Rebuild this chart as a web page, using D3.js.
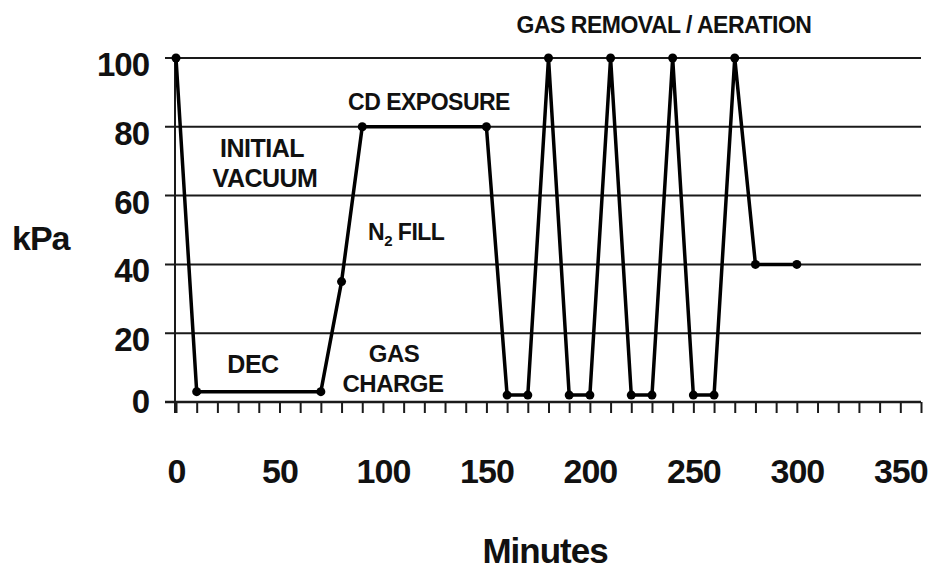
<!DOCTYPE html>
<html>
  <head>
    <meta charset="utf-8" />
    <script src="https://cdnjs.cloudflare.com/ajax/libs/d3/7.8.5/d3.min.js"></script>
    <style>
      body { margin: 0; background: #fff; }
      svg text { font-family: "Liberation Sans", Arial, sans-serif; font-weight: bold; fill: #111; }
    </style>
  </head>
  <body>
    <div id="chart"></div>
    <script>
      // process timeline: minutes vs chamber pressure (kPa)
      const minutes = [0, 10, 70, 80, 90, 150, 160, 170, 180, 190, 200, 210, 220, 230, 240, 250, 260, 270, 280, 300];
      const kPa = [100, 3, 3, 35, 80, 80, 2, 2, 100, 2, 2, 100, 2, 2, 100, 2, 2, 100, 40, 40];

      const yTicks = [0, 20, 40, 60, 80, 100];
      const xTicks = d3.range(0, 370, 10);
      const xLabelEvery = 50;

      const w = 935;
      const h = 572;

      const x = d3.scaleLinear().domain([0, 360]).range([176, 921]);
      const y = d3.scaleLinear().domain([0, 100]).range([402, 58]);

      const svg = d3
        .select("#chart")
        .append("svg")
        .attr("width", w)
        .attr("height", h);

      // horizontal grid lines (the 0 line is the x axis)
      svg
        .append("g")
        .selectAll("line")
        .data(yTicks)
        .enter()
        .append("line")
        .attr("x1", 165)
        .attr("x2", x(360))
        .attr("y1", (d) => y(d))
        .attr("y2", (d) => y(d))
        .attr("stroke", "#1a1a1a")
        .attr("stroke-width", (d) => (d === 0 ? 2.5 : 2));

      // y axis line
      svg
        .append("line")
        .attr("x1", x(0) - 1)
        .attr("x2", x(0) - 1)
        .attr("y1", y(100))
        .attr("y2", y(0) + 11)
        .attr("stroke", "#1a1a1a")
        .attr("stroke-width", 2);

      // y labels
      svg
        .append("g")
        .selectAll("text")
        .data(yTicks)
        .enter()
        .append("text")
        .attr("x", 149)
        .attr("y", (d) => y(d) + (d === 0 ? 11 : 18))
        .attr("text-anchor", "end")
        .attr("font-size", 33)
        .attr("letter-spacing", -1)
        .text((d) => d);

      // x axis ticks and labels
      const xAxis = d3
        .axisBottom(x)
        .tickValues(xTicks)
        .tickSize(11)
        .tickPadding(0)
        .tickFormat((d) => (d % xLabelEvery === 0 ? d : ""));

      const gx = svg
        .append("g")
        .attr("transform", "translate(0," + y(0) + ")")
        .call(xAxis);
      gx.select(".domain").remove();
      gx.selectAll("line").attr("stroke", "#1a1a1a").attr("stroke-width", 2);
      gx.selectAll("text")
        .attr("y", 81)
        .attr("dy", 0)
        .attr("font-size", 34)
        .attr("font-family", "Liberation Sans, Arial, sans-serif")
        .attr("font-weight", "bold")
        .attr("letter-spacing", -1)
        .attr("fill", "#111");

      // axis titles
      svg.append("text").attr("x", 12).attr("y", 250).attr("font-size", 34).attr("letter-spacing", -1).text("kPa");
      svg.append("text").attr("x", 545).attr("y", 563).attr("text-anchor", "middle")
        .attr("font-size", 35).attr("letter-spacing", -1).text("Minutes");

      // pressure line
      const pts = minutes.map((m, i) => [m, kPa[i]]);
      svg
        .append("path")
        .datum(pts)
        .attr("fill", "none")
        .attr("stroke", "#000")
        .attr("stroke-width", 3.5)
        .attr("stroke-linejoin", "round")
        .attr("d", d3.line().x((d) => x(d[0])).y((d) => y(d[1])));

      svg
        .append("g")
        .selectAll("circle")
        .data(pts)
        .enter()
        .append("circle")
        .attr("cx", (d) => x(d[0]))
        .attr("cy", (d) => y(d[1]))
        .attr("r", 4.5)
        .attr("fill", "#000");

      // phase annotations
      const note = (tx, ty, s, size) =>
        svg.append("text").attr("x", tx).attr("y", ty).attr("text-anchor", "middle")
          .attr("font-size", size || 23).attr("letter-spacing", -0.5).text(s);

      note(262, 157, "INITIAL", 25);
      note(265, 187, "VACUUM", 25);
      note(253, 373, "DEC", 25);
      note(394, 362, "GAS", 24);
      note(393, 392, "CHARGE", 24);
      note(429, 110, "CD EXPOSURE");
      note(664, 33, "GAS REMOVAL / AERATION");

      const n2 = svg.append("text").attr("x", 368).attr("y", 240).attr("font-size", 23).attr("letter-spacing", -0.5);
      n2.append("tspan").text("N");
      n2.append("tspan").attr("font-size", 15).attr("dy", 6).text("2");
      n2.append("tspan").attr("dy", -6).text(" FILL");
    </script>
  </body>
</html>
